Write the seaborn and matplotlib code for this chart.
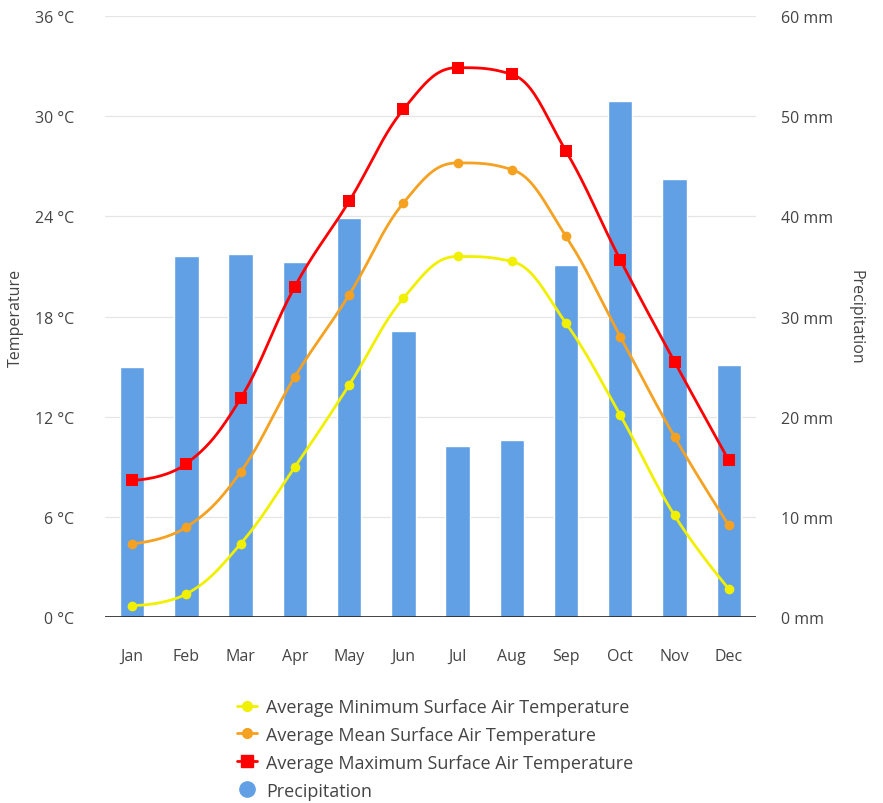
import numpy as np
import pandas as pd
import matplotlib
matplotlib.use("Agg")
import matplotlib.pyplot as plt
from matplotlib.lines import Line2D
import seaborn as sns

months = ["Jan", "Feb", "Mar", "Apr", "May", "Jun", "Jul", "Aug", "Sep", "Oct", "Nov", "Dec"]
temp_min = [0.7, 1.4, 4.4, 9.0, 13.9, 19.1, 21.6, 21.3, 17.6, 12.1, 6.1, 1.7]
temp_mean = [4.4, 5.4, 8.7, 14.4, 19.3, 24.8, 27.2, 26.8, 22.8, 16.8, 10.8, 5.5]
temp_max = [8.2, 9.2, 13.1, 19.8, 24.9, 30.4, 32.9, 32.5, 27.9, 21.4, 15.3, 9.4]
precip = [25.0, 36.0, 36.2, 35.4, 39.8, 28.6, 17.1, 17.7, 35.1, 51.5, 43.7, 25.2]
temp_ticks = [0, 6, 12, 18, 24, 30, 36]
precip_ticks = [0, 10, 20, 30, 40, 50, 60]

sns.set_theme(style="white")
plt.rcParams['font.family'] = ['Open Sans', 'DejaVu Sans']

TXT = "#444444"
C_MIN, C_MEAN, C_MAX, C_BAR = "#F0F000", "#F5A121", "#FF0000", "#62A0E6"

fig = plt.figure(figsize=(8.83, 8.04), dpi=100)
ax = fig.add_axes([0.119, 0.231, 0.737, 0.748])
ax2 = ax.twinx()

ax2.set_zorder(1)
ax.set_zorder(2)
ax.patch.set_visible(False)

df = pd.DataFrame({"month": months, "precip": precip})
sns.barplot(data=df, x="month", y="precip", ax=ax2, color=C_BAR, width=0.45,
            saturation=1, zorder=3)
ax2.set_ylim(0, 60)
ax2.set_yticks(precip_ticks)
ax2.set_yticklabels([f"{v} mm" for v in precip_ticks])
ax2.set_ylabel("Precipitation", rotation=270, labelpad=22, color=TXT, fontsize=11.5)
for y in precip_ticks[1:]:
    ax2.axhline(y, color="#E6E6E6", lw=0.9, zorder=0)


def smooth(xs, ys, n=24, sm=1.5):
    """Highcharts-style spline: bezier control points, no overshoot."""
    xs = np.asarray(xs, float); ys = np.asarray(ys, float)
    N = len(xs)
    lc = [None] * N
    rc = [None] * N
    for i in range(N):
        if i == 0 or i == N - 1:
            lc[i] = (xs[i], ys[i]); rc[i] = (xs[i], ys[i]); continue
        lx = (sm * xs[i] + xs[i - 1]) / (sm + 1)
        ly = (sm * ys[i] + ys[i - 1]) / (sm + 1)
        rx = (sm * xs[i] + xs[i + 1]) / (sm + 1)
        ry = (sm * ys[i] + ys[i + 1]) / (sm + 1)
        corr = ((ry - ly) * (rx - xs[i])) / (rx - lx) + ys[i] - ry
        ly += corr; ry += corr
        if ly > max(ys[i - 1], ys[i]):
            ly = max(ys[i - 1], ys[i]); ry = 2 * ys[i] - ly
        elif ly < min(ys[i - 1], ys[i]):
            ly = min(ys[i - 1], ys[i]); ry = 2 * ys[i] - ly
        if ry > max(ys[i + 1], ys[i]):
            ry = max(ys[i + 1], ys[i]); ly = 2 * ys[i] - ry
        elif ry < min(ys[i + 1], ys[i]):
            ry = min(ys[i + 1], ys[i]); ly = 2 * ys[i] - ry
        lc[i] = (lx, ly); rc[i] = (rx, ry)
    px, py = [], []
    t = np.linspace(0, 1, n, endpoint=False)
    for i in range(N - 1):
        p0 = np.array([xs[i], ys[i]]); p1 = np.array(rc[i])
        p2 = np.array(lc[i + 1]); p3 = np.array([xs[i + 1], ys[i + 1]])
        b = ((1 - t) ** 3)[:, None] * p0 + (3 * (1 - t) ** 2 * t)[:, None] * p1 \
            + (3 * (1 - t) * t ** 2)[:, None] * p2 + (t ** 3)[:, None] * p3
        px.append(b[:, 0]); py.append(b[:, 1])
    px.append([xs[-1]]); py.append([ys[-1]])
    return np.concatenate(px), np.concatenate(py)


x = np.arange(len(months))
series = [(temp_min, C_MIN, "o", 7), (temp_mean, C_MEAN, "o", 7), (temp_max, C_MAX, "s", 9)]
for vals, col, mk, ms in series:
    sx, sy = smooth(x, vals)
    sns.lineplot(x=sx, y=sy, ax=ax, color=col, lw=2, sort=False, estimator=None)
    sns.scatterplot(x=x, y=vals, ax=ax, color=col, marker=mk, s=ms ** 2, edgecolor=col,
                    linewidth=0, zorder=5)

ax.set_xlim(-0.5, 11.5)
ax2.set_xlim(-0.5, 11.5)
ax.set_ylim(0, 36)
ax.set_yticks(temp_ticks)
ax.set_yticklabels([f"{v} °C" for v in temp_ticks])
ax.set_xticks(x)
ax.set_xticklabels(months)
ax.set_ylabel("Temperature", color=TXT, fontsize=11.5, labelpad=8)
ax.set_xlabel("")
ax2.set_xlabel("")

for a in (ax, ax2):
    for s in a.spines.values():
        s.set_visible(False)
    a.tick_params(axis="both", length=0, colors=TXT, labelsize=11.5)
ax.tick_params(axis="y", pad=22)
ax.tick_params(axis="x", pad=22)
ax2.tick_params(axis="y", pad=18)
ax.axhline(0, color="#222222", lw=1.2, zorder=6)

handles = [
    Line2D([], [], color=C_MIN, marker="o", ms=7, lw=2),
    Line2D([], [], color=C_MEAN, marker="o", ms=7, lw=2),
    Line2D([], [], color=C_MAX, marker="s", ms=8, lw=2),
    Line2D([], [], color=C_BAR, marker="o", ms=11, lw=0),
]
labels = ["Average Minimum Surface Air Temperature", "Average Mean Surface Air Temperature",
          "Average Maximum Surface Air Temperature", "Precipitation"]
leg = fig.legend(handles, labels, loc="upper center", bbox_to_anchor=(0.493, 0.151),
                 frameon=False, fontsize=13, labelspacing=0.55, handlelength=1.1,
                 handletextpad=0.5)
for t in leg.get_texts():
    t.set_color(TXT)

fig.savefig("out.png", dpi=100)
